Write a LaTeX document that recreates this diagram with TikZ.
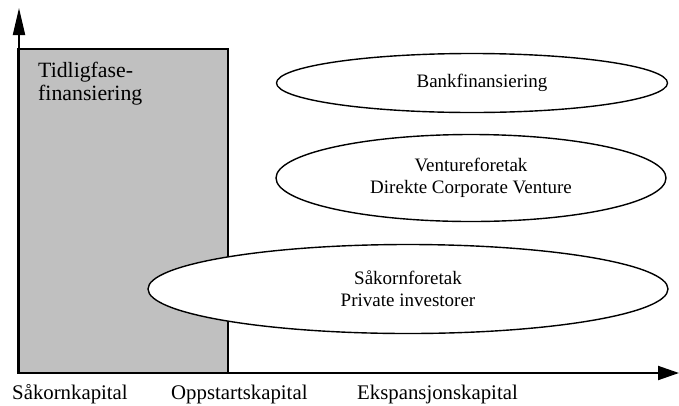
\documentclass[tikz,border=0pt]{standalone}
\usepackage{fontspec}
\setmainfont{Liberation Serif}
\usetikzlibrary{arrows.meta,shapes.geometric}
\definecolor{boxgray}{HTML}{C0C0C0}
\tikzset{
  oval/.style={ellipse, draw=black, line width=1.4pt, fill=white, inner sep=0pt, align=center, font=\fontsize{19}{22}\selectfont},
  lbl/.style={anchor=base west, inner sep=0pt, font=\fontsize{20.8}{24}\selectfont},
  axis/.style={line width=2pt}
}
\begin{document}
\begin{tikzpicture}[x=1pt,y=-1pt]
\useasboundingbox (0,0) rectangle (679,405);
% gray early-phase box
\draw[fill=boxgray, line width=1.4pt] (18,49) rectangle (228,373);
\node[lbl, align=left, font=\fontsize{21.8}{23}\selectfont] (tidlig) at (38,100) {Tidligfase-\\finansiering};
% ellipses
\node[oval, minimum width=391pt, minimum height=59pt] (bank) at (472,83) {\hspace*{20pt}Bankfinansiering};
\node[oval, minimum width=390pt, minimum height=87pt] (venture) at (471,178) {Ventureforetak\\Direkte Corporate Venture};
\node[oval, minimum width=520pt, minimum height=89pt] (seed) at (408,289) {Såkornforetak\\Private investorer};
% axes
\coordinate (origin) at (19,373);
\coordinate (ytop) at (19,8);
\coordinate (xend) at (679,373);
\draw[axis, -{Triangle[length=27pt,width=12pt]}] (origin) -- (ytop);
\draw[axis, -{Triangle[length=21pt,width=14pt]}] (origin) -- (xend);
% phase labels
\node[lbl] (l1) at (12,399) {Såkornkapital};
\node[lbl] (l2) at (171,399) {Oppstartskapital};
\node[lbl] (l3) at (357,399) {Ekspansjonskapital};
\end{tikzpicture}
\end{document}
